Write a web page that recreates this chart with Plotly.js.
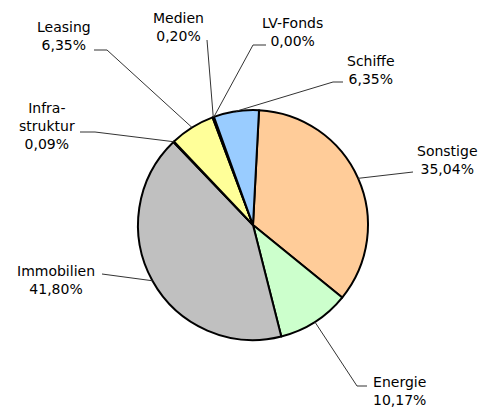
<!DOCTYPE html>
<html>
<head>
<meta charset="utf-8">
<script src="https://cdn.plot.ly/plotly-3.0.1.min.js"></script>
<style>html,body{margin:0;padding:0;background:#fff}#chart{width:495px;height:408px}</style>
</head>
<body>
<div id="chart"></div>
<script>
// ---- data ----
var categories = ['Sonstige', 'Energie', 'Immobilien', 'Infrastruktur', 'Leasing', 'Medien', 'LV-Fonds', 'Schiffe'];
var labelTexts = ['Sonstige', 'Energie', 'Immobilien', 'Infra-<br>struktur', 'Leasing', 'Medien', 'LV-Fonds', 'Schiffe'];
var shares = [35.04, 10.17, 41.80, 0.09, 6.35, 0.20, 0.00, 6.35];
var sliceColors = ['#FFCC99', '#CCFFCC', '#C0C0C0', '#CC99FF', '#FFFF99', '#FF99CC', '#993366', '#99CCFF'];

// ---- layout (pixel positions of label blocks and leader elbows) ----
var W = 495, H = 408;
var cx = 253, cy = 225, R = 115, rotationDeg = 3;
var labelPos = [[447, 160], [399, 391], [56, 280], [47, 126], [64, 36], [178, 27], [292, 32], [371, 70]];
var elbow = [[413, 172], [357, 386], [102, 274], [95, 132], [107, 50], [207, 40], [253, 45], [333, 82]];
var lineEnd = [[413, 172], [367, 386], [102, 274], [80, 132], [94, 50], [207, 40], [266, 45], [343, 82]];

function px(x) { return x / W; }
function py(y) { return 1 - y / H; }
function fmt(v) { return v.toFixed(2).replace('.', ',') + '%'; }

var total = shares.reduce(function (a, b) { return a + b; }, 0);
var annotations = [], shapes = [];
var cum = 0;
for (var i = 0; i < categories.length; i++) {
  var mid = (cum + shares[i] / 2) / total;
  cum += shares[i];
  var ang = (rotationDeg + mid * 360) * Math.PI / 180;
  var tx = cx + R * Math.sin(ang), ty = cy - R * Math.cos(ang);
  shapes.push({
    type: 'path', xref: 'paper', yref: 'paper',
    path: 'M ' + px(tx) + ' ' + py(ty) + ' L ' + px(elbow[i][0]) + ' ' + py(elbow[i][1]) +
          ' L ' + px(lineEnd[i][0]) + ' ' + py(lineEnd[i][1]),
    line: { color: '#333333', width: 1 }
  });
  annotations.push({
    xref: 'paper', yref: 'paper', x: px(labelPos[i][0]), y: py(labelPos[i][1]),
    xanchor: 'center', yanchor: 'middle', showarrow: false, align: 'center',
    text: labelTexts[i] + '<br>' + fmt(shares[i]),
    font: { family: 'DejaVu Sans, Verdana, sans-serif', size: 14, color: '#000000' }
  });
}

var trace = {
  type: 'pie', labels: categories, values: shares, sort: false,
  direction: 'clockwise', rotation: rotationDeg,
  textinfo: 'none', hoverinfo: 'label+percent',
  marker: { colors: sliceColors, line: { color: '#000000', width: 2 } },
  domain: { x: [px(cx - R), px(cx + R)], y: [py(cy + R), py(cy - R)] },
  showlegend: false
};

Plotly.newPlot('chart', [trace], {
  width: W, height: H, margin: { l: 0, r: 0, t: 0, b: 0 },
  paper_bgcolor: '#ffffff', showlegend: false,
  annotations: annotations, shapes: shapes
}, { staticPlot: true, displayModeBar: false });
</script>
</body>
</html>
